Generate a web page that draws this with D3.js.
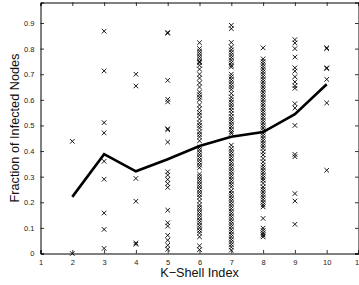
<!DOCTYPE html>
<html>
<head>
<meta charset="utf-8">
<script src="https://cdn.jsdelivr.net/npm/d3@7"></script>
<style>
    body { margin: 0; background: #fff; }
    svg { display: block; font-family: "Liberation Sans", Arial, sans-serif; }
</style>
</head>
<body>
<div id="chart"></div>
<script>
// k-shell index per column of points
var shells = [2, 3, 4, 5, 6, 7, 8, 9, 10];

// fraction of infected nodes, one list per k-shell
var fractions = [
    [0.438, 0.0],
    [0.868, 0.713, 0.511, 0.471, 0.36, 0.29, 0.158, 0.094, 0.02],
    [0.70, 0.654, 0.293, 0.204, 0.041, 0.036],
    [0.863, 0.860, 0.676, 0.602, 0.592, 0.487, 0.483, 0.435, 0.319, 0.306, 0.289, 0.273, 0.258,
        0.169, 0.12, 0.107, 0.071, 0.052, 0.032, 0.017],
    [0.823, 0.80, 0.79, 0.78, 0.77, 0.76, 0.75, 0.745, 0.735, 0.72, 0.70, 0.685, 0.666, 0.65,
        0.63, 0.62, 0.61, 0.60, 0.58, 0.565, 0.55, 0.54, 0.525, 0.51, 0.50, 0.49, 0.475, 0.465,
        0.455, 0.44, 0.415, 0.405, 0.395, 0.385, 0.375, 0.365, 0.355, 0.345, 0.335, 0.31, 0.30,
        0.29, 0.28, 0.27, 0.26, 0.25, 0.24, 0.23, 0.22, 0.205, 0.19, 0.18, 0.17, 0.16, 0.15, 0.14,
        0.13, 0.12, 0.11, 0.10, 0.09, 0.08, 0.065, 0.03, 0.015],
    [0.891, 0.878, 0.824, 0.806, 0.795, 0.785, 0.775, 0.765, 0.755, 0.745, 0.735, 0.728, 0.70,
        0.69, 0.68, 0.67, 0.66, 0.65, 0.64, 0.625, 0.611, 0.60, 0.59, 0.58, 0.57, 0.559, 0.547,
        0.535, 0.525, 0.515, 0.505, 0.495, 0.485, 0.475, 0.469, 0.423, 0.41, 0.40, 0.39, 0.38,
        0.37, 0.36, 0.35, 0.34, 0.33, 0.32, 0.31, 0.30, 0.29, 0.28, 0.27, 0.26, 0.245, 0.235,
        0.225, 0.215, 0.205, 0.195, 0.185, 0.175, 0.165, 0.155, 0.145, 0.135, 0.125, 0.115, 0.105,
        0.095, 0.085, 0.075, 0.065, 0.055, 0.045, 0.035, 0.025, 0.013],
    [0.803, 0.76, 0.75, 0.74, 0.73, 0.72, 0.71, 0.70, 0.69, 0.68, 0.67, 0.66, 0.65, 0.64, 0.63,
        0.62, 0.61, 0.60, 0.59, 0.58, 0.57, 0.56, 0.55, 0.54, 0.53, 0.52, 0.51, 0.50, 0.49, 0.48,
        0.47, 0.46, 0.45, 0.44, 0.43, 0.42, 0.41, 0.397, 0.385, 0.371, 0.358, 0.345, 0.335, 0.325,
        0.315, 0.305, 0.295, 0.286, 0.274, 0.26, 0.25, 0.24, 0.23, 0.22, 0.21, 0.20, 0.19, 0.182,
        0.137, 0.099, 0.09, 0.08, 0.072, 0.065],
    [0.835, 0.822, 0.80, 0.767, 0.725, 0.712, 0.69, 0.67, 0.655, 0.645, 0.585, 0.568, 0.50,
        0.387, 0.378, 0.234, 0.205, 0.114],
    [0.803, 0.800, 0.725, 0.722, 0.68, 0.588, 0.325]
];

// mean fraction per k-shell (thick line)
var means = [0.221, 0.388, 0.321, 0.368, 0.42, 0.456, 0.474, 0.544, 0.661];

var xTicks = [1, 2, 3, 4, 5, 6, 7, 8, 9, 10, 11];
var yTicks = [0, 0.1, 0.2, 0.3, 0.4, 0.5, 0.6, 0.7, 0.8, 0.9];

(function () {
    "use strict";

    var width = 359,
        height = 285,
        left = 40.5,
        right = 358.5,
        top = 2.5,
        bottom = 253.5,
        tickLen = 3.5;

    var x = d3.scaleLinear().domain([1, 11]).range([left, right]);
    var y = d3.scaleLinear().domain([0, 0.98]).range([bottom, top]);

    var svg = d3.select('#chart').append('svg')
        .attr('width', width)
        .attr('height', height);

    // flatten points
    var points = [];
    shells.forEach(function (k, i) {
        fractions[i].forEach(function (v) {
            points.push({k: k, v: v});
        });
    });

    // x markers
    var s = 2.3;
    svg.append('g')
        .selectAll('path')
        .data(points)
        .enter().append('path')
        .attr('d', function (d) {
            var cx = x(d.k), cy = y(d.v);
            return 'M' + (cx - s) + ',' + (cy - s) + 'L' + (cx + s) + ',' + (cy + s) +
                'M' + (cx - s) + ',' + (cy + s) + 'L' + (cx + s) + ',' + (cy - s);
        })
        .attr('stroke', '#000')
        .attr('stroke-width', 0.9)
        .attr('fill', 'none');

    // mean line
    var line = d3.line()
        .x(function (d, i) { return x(shells[i]); })
        .y(function (d) { return y(d); });

    svg.append('path')
        .datum(means)
        .attr('d', line)
        .attr('fill', 'none')
        .attr('stroke', '#000')
        .attr('stroke-width', 2.6)
        .attr('stroke-linejoin', 'miter');

    // axes (inward ticks, box)
    var axB = d3.axisBottom(x).tickValues(xTicks).tickSize(-tickLen).tickPadding(6)
        .tickFormat(d3.format('d'));
    var axT = d3.axisTop(x).tickValues(xTicks).tickSize(-tickLen).tickFormat('');
    var axL = d3.axisLeft(y).tickValues(yTicks).tickSize(-tickLen).tickPadding(6)
        .tickFormat(function (d) { return d === 0 ? '0' : d3.format('.1f')(d); });
    var axR = d3.axisRight(y).tickValues(yTicks).tickSize(-tickLen).tickFormat('');

    [[axB, 'translate(0,' + bottom + ')'], [axT, 'translate(0,' + top + ')'],
        [axL, 'translate(' + left + ',0)'], [axR, 'translate(' + right + ',0)']]
        .forEach(function (a) {
            var g = svg.append('g').attr('transform', a[1]).call(a[0]);
            g.select('.domain').attr('stroke', '#000').attr('stroke-width', 1);
            g.selectAll('.tick line').attr('stroke', '#000').attr('stroke-width', 0.8);
            g.selectAll('.tick text')
                .attr('font-size', '7.5px')
                .attr('fill', '#222')
                .attr('font-family', '"Liberation Sans", Arial, sans-serif');
        });

    // axis labels
    svg.append('text')
        .attr('x', (left + right) / 2)
        .attr('y', 277)
        .attr('text-anchor', 'middle')
        .attr('font-size', '12.7px')
        .attr('fill', '#111')
        .text('K\u2212Shell Index');

    svg.append('text')
        .attr('transform', 'translate(19,' + ((top + bottom) / 2) + ') rotate(-90)')
        .attr('text-anchor', 'middle')
        .attr('font-size', '12.7px')
        .attr('fill', '#111')
        .text('Fraction of Infected Nodes');
})();
</script>
</body>
</html>
